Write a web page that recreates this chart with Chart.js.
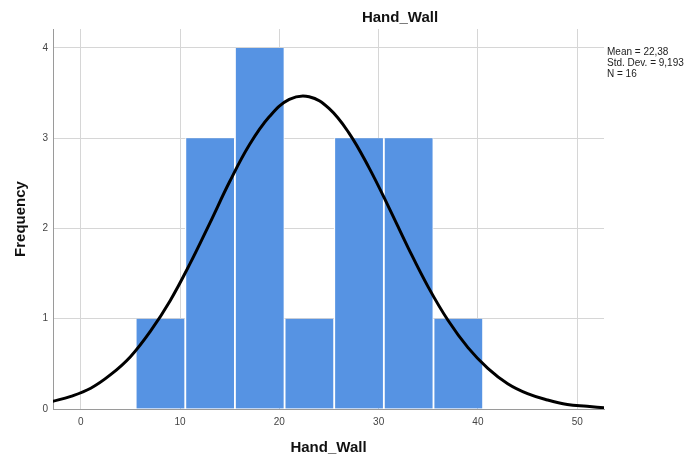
<!DOCTYPE html>
<html>
<head>
<meta charset="utf-8">
<script src="https://cdn.jsdelivr.net/npm/chart.js@4/dist/chart.umd.min.js"></script>
<style>
  html, body { margin: 0; padding: 0; background: #fff; }
  #wrap { width: 690px; height: 462px; }
</style>
</head>
<body>
<div id="wrap"><canvas id="hist" width="690" height="462"></canvas></div>
<script>
// Histogram bins (width 5) and counts
const binCenters = [8, 13, 18, 23, 28, 33, 38];
const frequencies = [1, 3, 4, 1, 3, 3, 1];

// Normal curve, read at every 2 units along x
const curveX = [-3, -1, 1, 3, 5, 7, 9, 11, 13, 15, 17, 19, 21, 23, 25, 27, 29, 31, 33, 35, 37, 39, 41, 43, 45, 47, 49, 51, 53];
const curveY = [0.08, 0.14, 0.23, 0.38, 0.58, 0.86, 1.20, 1.61, 2.06, 2.52, 2.93, 3.24, 3.43, 3.46, 3.33, 3.06, 2.68, 2.24, 1.78, 1.35, 0.98, 0.68, 0.45, 0.28, 0.17, 0.10, 0.05, 0.03, 0.01];

const xTicks = [0, 10, 20, 30, 40, 50];
const yTicks = [0, 1, 2, 3, 4];
const statLines = ['Mean = 22,38', 'Std. Dev. = 9,193', 'N = 16'];
const chartTitle = 'Hand_Wall';

const FONT = '"Liberation Sans", Arial, sans-serif';

// title + stats box drawn at fixed spots like SPSS does
const annotations = {
    id: 'annotations',
    afterDraw(chart) {
        const { ctx } = chart;
        ctx.save();
        ctx.fillStyle = '#111';
        ctx.font = 'bold 15px ' + FONT;
        ctx.textAlign = 'center';
        ctx.textBaseline = 'middle';
        ctx.fillText(chartTitle, 400, 18);

        ctx.font = '10px ' + FONT;
        ctx.fillStyle = '#222';
        ctx.textAlign = 'left';
        statLines.forEach((t, i) => ctx.fillText(t, 607, 52 + i * 11));
        ctx.restore();
    }
};

new Chart(document.getElementById('hist'), {
    type: 'bar',
    data: {
        datasets: [
            {
                type: 'line',
                label: 'Normal',
                data: curveX.map((x, i) => ({ x, y: curveY[i] })),
                borderColor: '#000',
                borderWidth: 3,
                pointRadius: 0,
                fill: false,
                tension: 0.4,
                clip: 0,
                order: 0
            },
            {
                label: 'Frequency',
                data: binCenters.map((x, i) => ({ x, y: frequencies[i] })),
                backgroundColor: '#5693e3',
                borderColor: '#ffffff',
                borderWidth: { left: 1.5, right: 1, top: 0, bottom: 0 },
                borderSkipped: false,
                barPercentage: 1,
                categoryPercentage: 1,
                order: 1
            }
        ]
    },
    options: {
        responsive: false,
        animation: false,
        layout: { padding: { left: 0, top: 29, right: 86, bottom: 0 } },
        plugins: {
            legend: { display: false },
            tooltip: { enabled: false },
            title: { display: false }
        },
        scales: {
            x: {
                type: 'linear',
                min: -2.8,
                max: 52.7,
                offset: false,
                afterBuildTicks: s => { s.ticks = xTicks.map(v => ({ value: v })); },
                afterFit: s => { s.height = 53; },
                grid: { color: '#d6d6d6', lineWidth: 1, drawTicks: false, offset: false },
                border: { color: '#9a9a9a', width: 1 },
                ticks: { padding: 7, color: '#444', font: { size: 10, family: FONT } },
                title: {
                    display: true,
                    text: 'Hand_Wall',
                    color: '#111',
                    font: { size: 15, weight: 'bold', family: FONT },
                    padding: { top: 0, bottom: 5 }
                }
            },
            y: {
                min: 0,
                max: 4.21,
                afterBuildTicks: s => { s.ticks = yTicks.map(v => ({ value: v })); },
                afterFit: s => { s.width = 53; },
                grid: { color: '#d6d6d6', lineWidth: 1, drawTicks: false },
                border: { color: '#9a9a9a', width: 1 },
                ticks: { padding: 5, color: '#444', font: { size: 10, family: FONT } },
                title: {
                    display: true,
                    text: 'Frequency',
                    color: '#111',
                    font: { size: 15, weight: 'bold', family: FONT },
                    padding: { top: 12, bottom: 0 }
                }
            }
        }
    },
    plugins: [annotations]
});
</script>
</body>
</html>
